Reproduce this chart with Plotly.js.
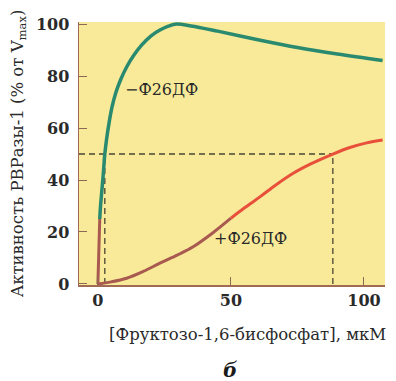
<!DOCTYPE html>
<html>
<head>
<meta charset="utf-8">
<script src="https://cdn.plot.ly/plotly-3.0.1.min.js"></script>
<style>html,body{margin:0;padding:0;background:#fff;}#chart{width:396px;height:381px;}</style>
</head>
<body>
<div id="chart"></div>
<script>
// −Ф26ДФ curve, lower (brown) portion near zero
const minusLowX = [0, 0.3, 0.7];
const minusLowY = [0, 13, 25];
// −Ф26ДФ curve, main (green) portion
const minusX = [0.7, 1.0, 1.5, 2.0, 2.6, 3.3, 4.2, 5.3, 6.7, 8.5, 10.8, 13.5, 16.5, 20, 23.5, 26.5, 29.5, 35, 45, 61, 75, 90, 107];
const minusY = [25, 30, 36, 42, 50, 56, 62, 68, 73.5, 78.5, 83.5, 88, 92, 95.5, 97.8, 99.2, 100, 99.3, 97.3, 93.8, 91, 88.5, 86];
// +Ф26ДФ curve, brown portion
const plusLowX = [0, 5, 10.8, 17, 23.3, 30, 35.8, 43, 50];
const plusLowY = [0, 0.8, 2.2, 4.8, 8, 11.2, 14.3, 19.5, 25.3];
// +Ф26ДФ curve, red portion
const plusX = [50, 55, 61, 67, 73.4, 80, 88.3, 95, 101, 107];
const plusY = [25.3, 29.2, 33.6, 38.2, 42.6, 46.2, 50, 52.6, 54.3, 55.4];
// half-saturation markers
const halfLevel = 50;
const halfMinusX = 2.6;
const halfPlusX = 88.3;
const xTicks = [0, 50, 100];
const yTicks = [0, 20, 40, 60, 80, 100];
const labels = ["−Ф26ДФ", "+Ф26ДФ"];
const labelX = [9.5, 43];
const labelY = [75, 17.5];
const xTitle = "[Фруктозо-1,6-бисфосфат], мкМ";
const yTitle = "Активность РВРазы-1 (% от V<sub>max</sub>)";
const panelLabel = "б";

const xRange = [-7.1, 107.9];
const yRange = [-0.4, 100.8];
const green = "#2a8a70", brown = "#a85a50", red = "#e8503c", dash = "#4a4535";
const serif = "DejaVu Serif";

const traces = [
  {x: plusLowX, y: plusLowY, mode: "lines", line: {color: brown, width: 3, shape: "spline"}},
  {x: plusX, y: plusY, mode: "lines", line: {color: red, width: 3, shape: "spline"}},
  {x: minusX, y: minusY, mode: "lines", line: {color: green, width: 3.5, shape: "spline"}},
  {x: minusLowX, y: minusLowY, mode: "lines", line: {color: brown, width: 3}}
];

const dashLine = {color: dash, width: 1.3, dash: "6px,4px"};
const layout = {
  width: 396, height: 381,
  margin: {l: 79, r: 11, t: 22, b: 96},
  paper_bgcolor: "#ffffff",
  plot_bgcolor: "#f8ea98",
  showlegend: false,
  font: {family: serif, color: "#2a2a2a"},
  xaxis: {
    range: xRange, tickvals: xTicks, ticks: "inside", ticklen: 8, tickcolor: "#8a6a55",
    showline: true, linecolor: "#a06a55", linewidth: 1.5, showgrid: false, zeroline: false,
    tickfont: {family: serif, size: 16, weight: "bold", color: "#2a2a2a"}
  },
  yaxis: {
    range: yRange, tickvals: yTicks, ticks: "inside", ticklen: 8, tickcolor: "#8a6a55",
    showline: true, linecolor: "#a06a55", linewidth: 1.5, showgrid: false, zeroline: false,
    ticklabelstandoff: 5,
    tickfont: {family: serif, size: 16, weight: "bold", color: "#2a2a2a"},
    title: {text: yTitle, font: {family: serif, size: 16.5, color: "#2a2a2a"}, standoff: 8}
  },
  shapes: [
    {type: "line", xref: "x", yref: "y", x0: xRange[0], x1: halfPlusX, y0: halfLevel, y1: halfLevel, line: dashLine, layer: "below"},
    {type: "line", xref: "x", yref: "y", x0: halfMinusX, x1: halfMinusX, y0: 0, y1: halfLevel, line: dashLine, layer: "below"},
    {type: "line", xref: "x", yref: "y", x0: halfPlusX, x1: halfPlusX, y0: 0, y1: halfLevel, line: dashLine, layer: "below"}
  ],
  annotations: [
    {x: labelX[0], y: labelY[0], xref: "x", yref: "y", text: labels[0], showarrow: false, xanchor: "left", yanchor: "middle", font: {family: serif, size: 16, color: "#2a2a2a"}},
    {x: labelX[1], y: labelY[1], xref: "x", yref: "y", text: labels[1], showarrow: false, xanchor: "left", yanchor: "middle", font: {family: serif, size: 16, color: "#2a2a2a"}},
    {x: 0.552, y: -0.19, xref: "paper", yref: "paper", text: xTitle, showarrow: false, xanchor: "center", yanchor: "middle", font: {family: serif, size: 16.5, color: "#2a2a2a"}},
    {x: 0.495, y: -0.325, xref: "paper", yref: "paper", text: "<b><i>" + panelLabel + "</i></b>", showarrow: false, xanchor: "center", yanchor: "middle", font: {family: serif, size: 20, color: "#1a1a1a"}}
  ]
};
Plotly.newPlot("chart", traces, layout, {displayModeBar: false, staticPlot: true});
</script>
</body>
</html>
